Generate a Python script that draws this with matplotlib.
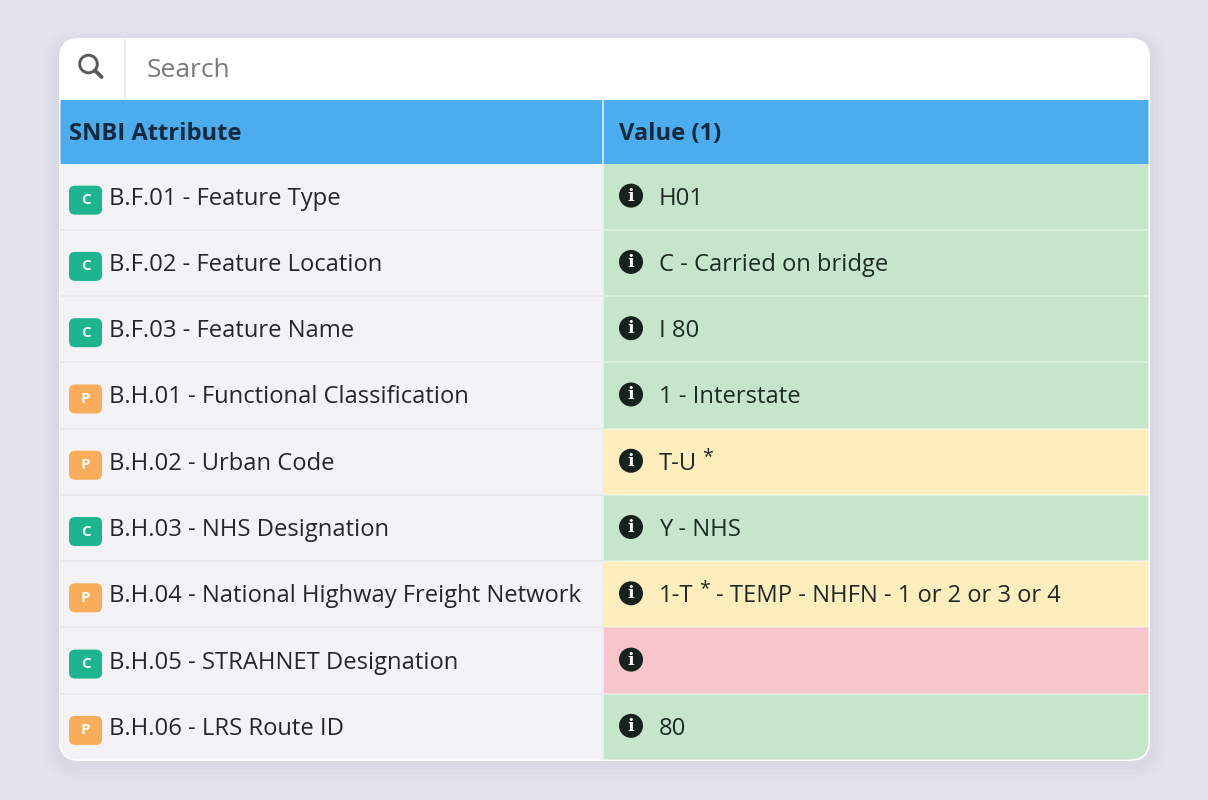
import matplotlib
matplotlib.use("Agg")
import matplotlib.pyplot as plt
from matplotlib.patches import FancyBboxPatch, Rectangle, Circle

## Table content
headers = ["SNBI Attribute", "Value (1)"]
badges = ["C", "C", "C", "P", "P", "C", "P", "C", "P"]
attributes = [
    "B.F.01 - Feature Type",
    "B.F.02 - Feature Location",
    "B.F.03 - Feature Name",
    "B.H.01 - Functional Classification",
    "B.H.02 - Urban Code",
    "B.H.03 - NHS Designation",
    "B.H.04 - National Highway Freight Network",
    "B.H.05 - STRAHNET Designation",
    "B.H.06 - LRS Route ID",
]
# the * marks a raised asterisk
values = [
    "H01",
    "C - Carried on bridge",
    "I 80",
    "1 - Interstate",
    "T-U*",
    "Y - NHS",
    "1-T* - TEMP - NHFN - 1 or 2 or 3 or 4",
    "",
    "80",
]
statuses = ["ok", "ok", "ok", "ok", "warn", "ok", "warn", "bad", "ok"]

## Colours
status_colors = {"ok": "#C5E6CB", "warn": "#FEEEBD", "bad": "#F6C6CB"}
badge_colors = {"C": "#1DB58F", "P": "#F9AC5A"}
background = "#E2E3EC"
header_color = "#4BADEE"
left_color = "#F3F3F6"
text_color = "#23272B"
value_color = "#1E2A24"

plt.rcParams["font.family"] = ["Open Sans", "DejaVu Sans"]

fig = plt.figure(figsize=(12.08, 8), dpi=100, facecolor=background)
ax = fig.add_axes([0, 0, 1, 1])
ax.set_xlim(0, 1208)
ax.set_ylim(800, 0)
ax.axis("off")

left, right, top, bottom = 59, 1150, 38, 761
col_split = 603
head_top, head_bottom = 100, 163.5
row_h = (760 - head_bottom) / len(attributes)
font_size = 17.15


def rounded(x, y, w, h, r, **kw):
    patch = FancyBboxPatch((x, y), w, h, boxstyle=f"round,pad=0,rounding_size={r}", **kw)
    ax.add_patch(patch)
    return patch


# soft shadow around the card
for grow, alpha in [(16, 0.015), (12, 0.02), (8, 0.025), (4, 0.03)]:
    rounded(left - grow, top - grow + 5, right - left + 2 * grow, bottom - top + 2 * grow, 20 + grow,
            facecolor="#8088A8", edgecolor="none", alpha=alpha)

card = rounded(left, top, right - left, bottom - top, 20, facecolor="white", edgecolor="none", zorder=1)
clip = rounded(left + 1.5, top + 1.5, right - left - 3, bottom - top - 3, 19,
               facecolor="none", edgecolor="none", zorder=1)


def cell(x, y, w, h, color, z=2):
    rect = Rectangle((x, y), w, h, facecolor=color, edgecolor="none", zorder=z)
    ax.add_patch(rect)
    rect.set_clip_path(clip)
    return rect


# search bar
ax.add_patch(Circle((88.5, 64), 8.8, facecolor="none", edgecolor="#5A5A5A", linewidth=2.1, zorder=3))
ax.plot([95, 101.5], [70.5, 77], color="#5A5A5A", linewidth=2.8, solid_capstyle="round", zorder=3)
ax.plot([125, 125], [40, 98], color="#E9E9EC", linewidth=1.2, zorder=3)
ax.text(147, 77, "Search", fontsize=font_size * 1.11, color="#77797C", va="baseline", ha="left", zorder=3)

# header
cell(left, head_top, col_split - left, head_bottom - head_top, header_color)
cell(col_split, head_top, right - col_split, head_bottom - head_top, header_color)
ax.plot([col_split, col_split], [head_top, head_bottom], color="#D6E6F3", linewidth=1.3, zorder=4)
for x, label in zip([69, 619], headers):
    ax.text(x, 140, label, fontsize=font_size, fontweight="bold", color="#14293D", va="baseline", zorder=4)


def draw_value(x, y, s):
    # draws the text piece by piece so the asterisks can be raised
    renderer = fig.canvas.get_renderer()
    pieces = s.split("*")
    for i, piece in enumerate(pieces):
        if piece:
            t = ax.text(x, y, piece.strip(), fontsize=font_size, color=value_color, va="baseline", ha="left", zorder=4)
            x = t.get_window_extent(renderer).x1
        if i < len(pieces) - 1:
            x += 5.5
            t = ax.text(x, y - 8, "*", fontsize=font_size - 3, color=value_color, va="baseline", ha="left", zorder=4)
            x = t.get_window_extent(renderer).x1 + 6


for i in range(len(attributes)):
    y0 = head_bottom + i * row_h
    cell(left, y0, col_split - left, row_h, left_color)
    cell(col_split, y0, right - col_split, row_h, status_colors[statuses[i]])
    yc = y0 + row_h / 2
    if i > 0:
        ax.plot([left + 2, col_split], [y0, y0], color="#E7E7EA", linewidth=1.2, zorder=3)
        ax.plot([col_split, right - 2], [y0, y0], color="white", alpha=0.4, linewidth=1.2, zorder=3)

    # type badge
    color = badge_colors[badges[i]]
    rounded(69, yc - 11, 33, 29, 6, facecolor=color, edgecolor="none", zorder=4)
    ax.text(85.5, yc + 3.5, badges[i], fontsize=11, fontweight="bold", color="#F4FBF8",
            ha="center", va="center", zorder=5)

    ax.text(109, yc + 8, attributes[i], fontsize=font_size, color=text_color, va="baseline", ha="left", zorder=4)

    # info icon
    ax.add_patch(Circle((631, yc - 1), 12, facecolor="#17211D", edgecolor="none", zorder=4))
    ax.text(631, yc - 0.5, "i", fontsize=12.5, fontweight="bold", family="DejaVu Serif", color="white",
            ha="center", va="center", zorder=5)

    draw_value(659, yc + 8, values[i])

ax.plot([col_split, col_split], [head_bottom, 760], color="#EDF0F2", linewidth=1.3, zorder=3)

fig.savefig("out.png", dpi=100, facecolor=background)
